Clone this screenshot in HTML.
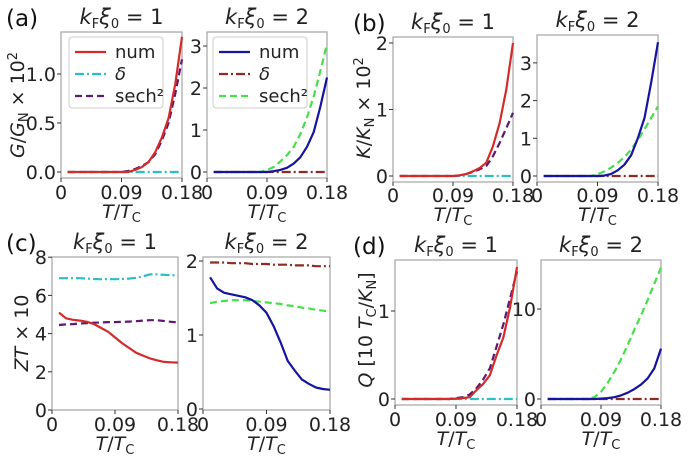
<!DOCTYPE html>
<html><head><meta charset="utf-8">
<style>
body{margin:0;background:#fff;}
svg{display:block;font-family:"DejaVu Sans","Liberation Sans",sans-serif;}
</style></head>
<body>
<svg id="fig" width="688" height="459" viewBox="0 0 688 459" xmlns="http://www.w3.org/2000/svg"></svg>
<script>
// ---- data ----
const T = [0.01,0.02,0.03,0.04,0.05,0.06,0.07,0.08,0.09,0.10,0.11,0.12,0.13,0.14,0.15,0.16,0.17,0.18];
const aL_num  = [0,0,0,0,0,0,0,0,0,0,0.02,0.05,0.1,0.2,0.35,0.55,0.9,1.38];
const aL_del  = [0,0,0,0,0,0,0,0,0,0,0,0,0,0,0,0,0,0];
const aL_sech = [0,0,0,0,0,0,0,0,0,0.01,0.03,0.06,0.1,0.18,0.32,0.5,0.8,1.15];
const aR_num  = [0,0,0,0,0,0,0,0,0,0.02,0.05,0.1,0.2,0.35,0.6,0.95,1.55,2.25];
const aR_del  = [0,0,0,0,0,0,0,0,0,0,0,0,0,0,0,0,0,0];
const aR_sech = [0,0,0,0,0,0,0,0,0.05,0.12,0.25,0.4,0.6,0.9,1.3,1.8,2.4,3.05];
const bL_num  = [0,0,0,0,0,0,0,0,0,0.01,0.03,0.07,0.12,0.2,0.45,0.8,1.3,2.0];
const bL_del  = [0,0,0,0,0,0,0,0,0,0,0,0,0,0,0,0,0,0];
const bL_sech = [0,0,0,0,0,0,0,0,0,0.01,0.03,0.06,0.1,0.15,0.3,0.5,0.72,0.95];
const bR_num  = [0,0,0,0,0,0,0,0,0,0.01,0.05,0.15,0.3,0.55,1.0,1.55,2.5,3.55];
const bR_del  = [0,0,0,0,0,0,0,0,0,0,0,0,0,0,0,0,0,0];
const bR_sech = [0,0,0,0,0,0,0,0,0.05,0.12,0.22,0.35,0.5,0.7,0.95,1.25,1.55,1.85];
const cL_num  = [5.1,4.8,4.72,4.68,4.62,4.5,4.3,4.1,3.8,3.5,3.25,3.0,2.85,2.7,2.6,2.52,2.5,2.48];
const cL_del  = [6.9,6.9,6.9,6.9,6.88,6.86,6.85,6.85,6.85,6.86,6.88,6.92,7.0,7.1,7.1,7.08,7.06,7.05];
const cL_sech = [4.45,4.48,4.5,4.53,4.55,4.57,4.58,4.6,4.6,4.62,4.63,4.65,4.68,4.7,4.7,4.66,4.62,4.58];
const cR_num  = [1.78,1.63,1.57,1.55,1.53,1.51,1.47,1.40,1.30,1.12,0.9,0.65,0.52,0.40,0.34,0.29,0.27,0.26];
const cR_del  = [1.98,1.98,1.98,1.97,1.97,1.97,1.96,1.96,1.96,1.95,1.95,1.95,1.94,1.94,1.94,1.93,1.93,1.93];
const cR_sech = [1.43,1.45,1.46,1.47,1.47,1.47,1.46,1.45,1.44,1.43,1.42,1.40,1.39,1.37,1.36,1.34,1.33,1.31];
const dL_num  = [0,0,0,0,0,0,0,0,0.005,0.01,0.02,0.1,0.17,0.27,0.5,0.7,1.05,1.5];
const dL_del  = [0,0,0,0,0,0,0,0,0,0,0,0,0,0,0,0,0,0];
const dL_sech = [0,0,0,0,0,0,0,0,0.01,0.02,0.05,0.12,0.22,0.35,0.6,0.85,1.15,1.45];
const dR_num  = [0,0,0,0,0,0,0,0,0.05,0.1,0.2,0.4,0.7,1.1,1.6,2.3,3.4,5.6];
const dR_del  = [0,0,0,0,0,0,0,0,0,0,0,0,0,0,0,0,0,0];
const dR_sech = [0,0,0,0,0,0,0,0.2,0.8,1.8,3.0,4.4,6.0,7.7,9.3,11.0,12.8,14.6];
const xTicks = [0,0.09,0.18];
const xTickLabels = ["0","0.09","0.18"];

const RED="#d42a2a", CYAN="#2bbfc4", PURPLE="#5e1870", BLUE="#1414a0", BROWN="#8e2a22", GREEN="#48df48";
const DASH_DEL="9,3,2,3", DASH_SECH="7,4";

const panels = [
 {id:"a-left", x0:61,x1:182,top:32,bot:178,y0:172,yU:98,yt:[0,0.5,1.0],yl:["0.0","0.5","1.0"],s:[aL_num,aL_del,aL_sech],c:[RED,CYAN,PURPLE],title:"1",pl:"(a)",xlY:199},
 {id:"a-right",x0:207,x1:327,top:32,bot:178,y0:172,yU:42,yt:[0,1,2,3],yl:["0","1","2","3"],s:[aR_num,aR_del,aR_sech],c:[BLUE,BROWN,GREEN],title:"2",xlY:199},
 {id:"b-left", x0:393,x1:513,top:37,bot:182,y0:176,yU:66.5,yt:[0,1,2],yl:["0","1","2"],s:[bL_num,bL_del,bL_sech],c:[RED,CYAN,PURPLE],title:"1",pl:"(b)",xlY:202},
 {id:"b-right",x0:537,x1:658,top:35,bot:182,y0:176,yU:37.7,yt:[0,1,2,3],yl:["0","1","2","3"],s:[bR_num,bR_del,bR_sech],c:[BLUE,BROWN,GREEN],title:"2",xlY:202},
 {id:"c-left", x0:52,x1:178,top:257,bot:410,y0:410,yU:19.1,yt:[0,2,4,6,8],yl:["0","2","4","6","8"],s:[cL_num,cL_del,cL_sech],c:[RED,CYAN,PURPLE],title:"1",pl:"(c)",xlY:431},
 {id:"c-right",x0:203,x1:330,top:257,bot:410,y0:409,yU:74,yt:[0,1,2],yl:["0","1","2"],s:[cR_num,cR_del,cR_sech],c:[BLUE,BROWN,GREEN],title:"2",xlY:431},
 {id:"d-left", x0:395,x1:517,top:260,bot:405,y0:399,yU:88,yt:[0,1],yl:["0","1"],s:[dL_num,dL_del,dL_sech],c:[RED,CYAN,PURPLE],title:"1",pl:"(d)",xlY:426},
 {id:"d-right",x0:541,x1:661,top:260,bot:405,y0:399,yU:9,yt:[0,10],yl:["0","10"],s:[dR_num,dR_del,dR_sech],c:[BLUE,BROWN,GREEN],title:"2",xlY:426}
];
const NS="http://www.w3.org/2000/svg";
const svg=document.getElementById("fig");
function mk(tag,attrs,parent){const e=document.createElementNS(NS,tag);for(const k in attrs)e.setAttribute(k,attrs[k]);(parent||svg).appendChild(e);return e;}
const names=["num","delta","sech2"];
panels.forEach(p=>{
  const g=mk("g",{});
  
  
  const sx=v=>p.x0+(v/0.18)*(p.x1-p.x0);
  const sy=v=>p.y0-v*p.yU;
  const box=mk("rect",{x:p.x0,y:p.top,width:p.x1-p.x0,height:p.bot-p.top,fill:"none",stroke:"#aaa","stroke-width":1.3},g);
  
  
  p.yt.forEach((v,i)=>{
    mk("line",{x1:p.x0-4,x2:p.x0,y1:sy(v),y2:sy(v),stroke:"#333"},g);
    const t=mk("text",{x:p.x0-5,y:sy(v)+7,"text-anchor":"end","font-size":19,fill:"#222"},g);
    t.textContent=p.yl[i];
    
    
  });
  xTicks.forEach((v,i)=>{
    mk("line",{x1:sx(v),x2:sx(v),y1:p.bot,y2:p.bot+4,stroke:"#333"},g);
    const t=mk("text",{x:sx(v),y:p.xlY,"text-anchor":"middle","font-size":19,fill:"#222"},g);
    t.textContent=xTickLabels[i];
    
    
  });
  const xl=mk("text",{x:(p.x0+p.x1)/2,y:p.xlY+19,"text-anchor":"middle","font-size":19,fill:"#222"},g);
  xl.innerHTML='<tspan font-style="italic">T</tspan>/<tspan font-style="italic">T</tspan><tspan font-size="13" dy="4">C</tspan>';
  
  
  const tt=mk("text",{x:(p.x0+p.x1)/2,y:p.top-8,"text-anchor":"middle","font-size":21,fill:"#222"},g);
  tt.innerHTML='<tspan font-style="italic">k</tspan><tspan font-size="13" dy="4">F</tspan><tspan dy="-4" font-style="italic">ξ</tspan><tspan font-size="13" dy="4">0</tspan><tspan dy="-4"> = '+p.title+'</tspan>';
  
  
  const order=[1,2,0];
  order.forEach(k=>{
    const d=p.s[k].map((v,i)=>(i?"L":"M")+sx(T[i]).toFixed(1)+","+sy(v).toFixed(1)).join("");
    const attrs={d:d,fill:"none",stroke:p.c[k],"stroke-width":2.2,"stroke-linejoin":"round"};
    if(k===1)attrs["stroke-dasharray"]=DASH_DEL;
    if(k===2)attrs["stroke-dasharray"]=DASH_SECH;
    const path=mk("path",attrs,g);
    
    
  });
  if(p.pl){
    const pl=mk("text",{x:p.id[0]==="a"||p.id[0]==="c"?6:353,y:p.top-6,"font-size":23,fill:"#111"},g);
    pl.textContent=p.pl;
    
    
  }
});
const ytitles=[
 {x:24,y:105,h:'<tspan font-style="italic">G</tspan>/<tspan font-style="italic">G</tspan><tspan font-size="13" dy="4">N</tspan><tspan dy="-4"> × 10</tspan><tspan font-size="13" dy="-7">2</tspan>'},
 {x:370,y:108,h:'<tspan font-style="italic">K</tspan>/<tspan font-style="italic">K</tspan><tspan font-size="13" dy="4">N</tspan><tspan dy="-4"> × 10</tspan><tspan font-size="13" dy="-7">2</tspan>'},
 {x:28,y:333,h:'<tspan font-style="italic">ZT</tspan> × 10'},
 {x:372,y:330,h:'<tspan font-style="italic">Q</tspan> [10 <tspan font-style="italic">T</tspan><tspan font-size="13" dy="4">C</tspan><tspan dy="-4">/</tspan><tspan font-style="italic">K</tspan><tspan font-size="13" dy="4">N</tspan><tspan dy="-4">]</tspan>'}
];
ytitles.forEach(o=>{
  const t=mk("text",{x:0,y:0,transform:"translate("+o.x+","+o.y+") rotate(-90)","text-anchor":"middle","font-size":19,fill:"#222"});
  t.innerHTML=o.h;
  
  
});
const legends=[{x:69,c:[RED,CYAN,PURPLE]},{x:213,c:[BLUE,BROWN,GREEN]}];
const legLabels=["num","δ","sech²"];
legends.forEach(L=>{
  const g=mk("g",{});
  
  
  mk("rect",{x:L.x,y:37,width:94,height:71,rx:3,fill:"#fff","fill-opacity":0.85,stroke:"#ccc"},g);
  [0,1,2].forEach(k=>{
    const y=52+k*22;
    const a={x1:L.x+6,x2:L.x+37,y1:y,y2:y,stroke:L.c[k],"stroke-width":2.2};
    if(k===1)a["stroke-dasharray"]=DASH_DEL;
    if(k===2)a["stroke-dasharray"]=DASH_SECH;
    const ln=mk("line",a,g);
    
    
    const t=mk("text",{x:L.x+46,y:y+6,"font-size":18,fill:"#222"},g);
    t.textContent=legLabels[k];
    if(k===1)t.setAttribute("font-style","italic");
    
    
  });
});
</script>
</body></html>
